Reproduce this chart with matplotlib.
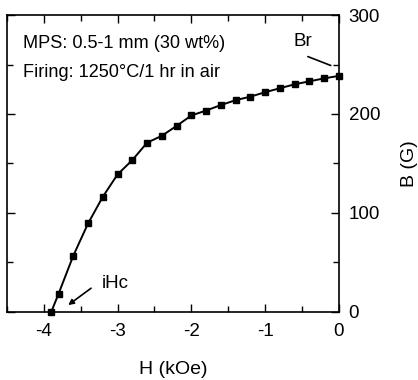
import matplotlib
matplotlib.use("Agg")
import matplotlib.pyplot as plt
from matplotlib.ticker import MultipleLocator

plt.rcParams['font.family'] = ['Liberation Sans', 'DejaVu Sans']
plt.rcParams['axes.unicode_minus'] = False

H_kOe = [-3.9, -3.8, -3.6, -3.4, -3.2, -3.0, -2.8, -2.6, -2.4, -2.2, -2.0,
         -1.8, -1.6, -1.4, -1.2, -1.0, -0.8, -0.6, -0.4, -0.2, 0.0]
B_G = [0, 18.5, 57, 89.5, 116.5, 139, 153.5, 171, 178, 188, 198.5,
       203.5, 209, 214, 217.5, 222, 226, 230, 233, 236, 238.5]

x_ticks = [-4, -3, -2, -1, 0]
y_ticks = [0, 100, 200, 300]

fig = plt.figure(figsize=(4.18, 3.8), dpi=100)
ax = fig.add_axes([0.0167, 0.179, 0.794, 0.7815])

ax.plot(H_kOe, B_G, color='black', lw=1.4, marker='s', ms=5.0,
        mfc='black', mec='black', clip_on=False, zorder=3)

ax.set_xlim(-4.5, 0)
ax.set_ylim(0, 300)
ax.set_xticks(x_ticks)
ax.set_yticks(y_ticks)
ax.xaxis.set_minor_locator(MultipleLocator(0.5))
ax.yaxis.set_minor_locator(MultipleLocator(50))

ax.yaxis.tick_right()
ax.yaxis.set_label_position('right')
ax.tick_params(which='both', direction='in', top=True, bottom=True,
               left=True, right=True, labelsize=13.5, width=1)
ax.tick_params(which='major', length=6)
ax.tick_params(which='minor', length=4)
ax.tick_params(axis='x', pad=8)
ax.tick_params(axis='y', pad=7)
for s in ax.spines.values():
    s.set_linewidth(1.2)

ax.set_xlabel('H (kOe)', fontsize=14, labelpad=15)
ax.set_ylabel('B (G)', fontsize=14, labelpad=15)

ax.text(0.048, 0.905, 'MPS: 0.5-1 mm (30 wt%)', transform=ax.transAxes,
        fontsize=13.1, va='center', ha='left')
ax.text(0.048, 0.805, 'Firing: 1250\u00b0C/1 hr in air', transform=ax.transAxes,
        fontsize=13.1, va='center', ha='left')

ax.text(-0.49, 273, 'Br', fontsize=13.5, ha='center', va='center')
ax.annotate('', xy=(-0.11, 249), xytext=(-0.42, 258),
            arrowprops=dict(arrowstyle='-', color='black', lw=1.2,
                            shrinkA=0, shrinkB=0))
ax.text(-3.03, 29, 'iHc', fontsize=13.5, ha='center', va='center')
ax.annotate('', xy=(-3.67, 7), xytext=(-3.36, 24),
            arrowprops=dict(arrowstyle='-|>', color='black', lw=1.2,
                            mutation_scale=8, shrinkA=0, shrinkB=0))

fig.savefig('out.png', dpi=100)
